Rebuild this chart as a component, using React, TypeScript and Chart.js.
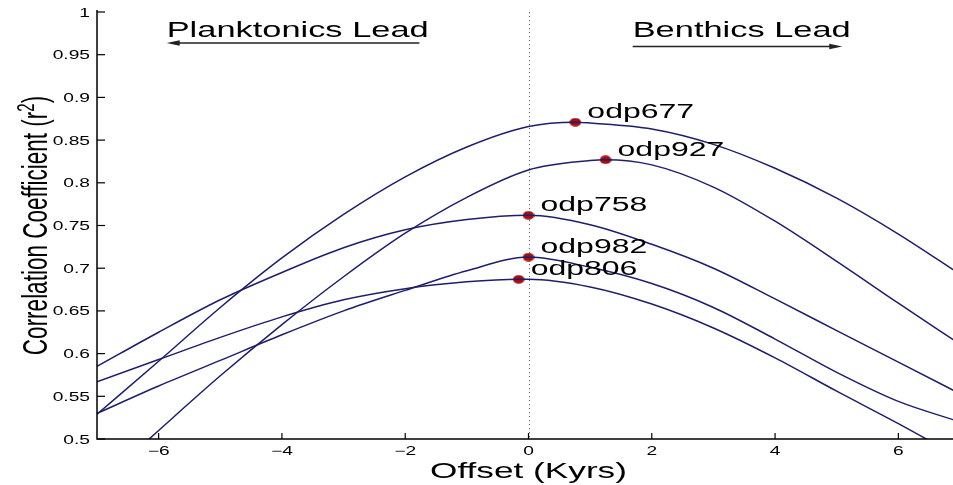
import React, { useEffect, useRef } from "react";
import { Chart, registerables } from "chart.js";

Chart.register(...registerables);

// Offsets (Kyrs) at which each core's correlation is listed
const offsets = [-7, -6, -5, -4, -3, -2, -1, 0, 1, 2, 3, 4, 5, 6, 7];

// Correlation coefficient (r²) per core at each offset
const odp677 = [0.529, 0.591, 0.654, 0.712, 0.763, 0.807, 0.842, 0.866, 0.870, 0.863, 0.845, 0.817, 0.782, 0.740, 0.693];
const odp927 = [0.445, 0.51, 0.574, 0.634, 0.69, 0.741, 0.783, 0.815, 0.826, 0.821, 0.795, 0.755, 0.708, 0.659, 0.611];
const odp758 = [0.585, 0.625, 0.663, 0.695, 0.724, 0.745, 0.757, 0.762, 0.751, 0.728, 0.7, 0.664, 0.627, 0.59, 0.553];
const odp982 = [0.53, 0.562, 0.592, 0.622, 0.65, 0.674, 0.697, 0.713, 0.701, 0.682, 0.654, 0.617, 0.578, 0.544, 0.52];
const odp806 = [0.567, 0.593, 0.619, 0.643, 0.663, 0.676, 0.684, 0.687, 0.678, 0.658, 0.63, 0.595, 0.556, 0.518, 0.478];

const coreNames = ["odp677", "odp927", "odp758", "odp982", "odp806"];
const coreSeries = [odp677, odp927, odp758, odp982, odp806];

// Best-fit offset and peak r² for each core
const peakOffsets = [0.76, 1.25, 0, 0, -0.16];
const peakValues = [0.871, 0.827, 0.762, 0.713, 0.687];

// Axis ticks
const yTicks = [0.5, 0.55, 0.6, 0.65, 0.7, 0.75, 0.8, 0.85, 0.9, 0.95, 1];
const yTickLabels = ["0.5", "0.55", "0.6", "0.65", "0.7", "0.75", "0.8", "0.85", "0.9", "0.95", "1"];
const xTicks = [-6, -4, -2, 0, 2, 4, 6];
const xTickLabels = ["\u22126", "\u22124", "\u22122", "0", "2", "4", "6"];

// Lead annotations (offset range of the arrow, and r² height of text / arrow)
const leadTexts = ["Planktonics Lead", "Benthics Lead"];
const leadArrowFrom = [-1.77, 1.69];
const leadArrowTo = [-5.87, 5.09];
const leadTextY = [0.9707, 0.9707];
const leadArrowY = [0.9637, 0.9596];

const LINE_COLOR = "#1e1e6c";
const DOT_COLOR = "#a50e0e";
const FONT = '"Liberation Sans", Arial, Helvetica, sans-serif';
const STRETCH = 1.6;

function seriesPoints(i: number) {
  const pts = offsets.map((x, k) => ({ x, y: coreSeries[i][k] }));
  const px = peakOffsets[i];
  const idx = pts.findIndex((p) => p.x === px);
  if (idx >= 0) pts[idx] = { x: px, y: peakValues[i] };
  else {
    pts.push({ x: px, y: peakValues[i] });
    pts.sort((a, b) => a.x - b.x);
  }
  return pts;
}

function wideText(
  ctx: CanvasRenderingContext2D,
  text: string,
  x: number,
  y: number,
  size: number,
  align: CanvasTextAlign
) {
  ctx.save();
  ctx.translate(x, y);
  ctx.scale(STRETCH, 1);
  ctx.font = `${size}px ${FONT}`;
  ctx.textAlign = align;
  ctx.textBaseline = "alphabetic";
  ctx.fillStyle = "#000";
  ctx.fillText(text, 0, 0);
  ctx.restore();
}

function arrow(ctx: CanvasRenderingContext2D, x1: number, x2: number, y: number) {
  const dir = x2 > x1 ? 1 : -1;
  ctx.save();
  ctx.strokeStyle = "#222";
  ctx.fillStyle = "#222";
  ctx.lineWidth = 1.3;
  ctx.beginPath();
  ctx.moveTo(x1, y);
  ctx.lineTo(x2 - dir * 8, y);
  ctx.stroke();
  ctx.beginPath();
  ctx.moveTo(x2, y);
  ctx.lineTo(x2 - dir * 13, y - 2.8);
  ctx.lineTo(x2 - dir * 13, y + 2.8);
  ctx.closePath();
  ctx.fill();
  ctx.restore();
}

const figurePlugin = {
  id: "figure",
  beforeDatasetsDraw(chart: any) {
    const { ctx, scales } = chart;
    const x0 = Math.round(scales.x.getPixelForValue(0)) + 0.5;
    ctx.save();
    ctx.strokeStyle = "#666";
    ctx.lineWidth = 1;
    ctx.setLineDash([1.2, 2.8]);
    ctx.beginPath();
    ctx.moveTo(x0, scales.y.getPixelForValue(1));
    ctx.lineTo(x0, scales.y.getPixelForValue(0.5));
    ctx.stroke();
    ctx.restore();
  },
  afterDraw(chart: any) {
    const { ctx, chartArea, scales } = chart;
    const xs = scales.x;
    const ys = scales.y;
    const left = chartArea.left;
    const bottom = ys.getPixelForValue(0.5);
    const top = ys.getPixelForValue(1);

    // axes
    ctx.save();
    ctx.strokeStyle = "#000";
    ctx.lineWidth = 1.5;
    ctx.beginPath();
    ctx.moveTo(left, top - 2);
    ctx.lineTo(left, bottom);
    ctx.lineTo(chartArea.right, bottom);
    ctx.stroke();
    ctx.lineWidth = 1.2;
    yTicks.forEach((v) => {
      const py = ys.getPixelForValue(v);
      ctx.beginPath();
      ctx.moveTo(left, py);
      ctx.lineTo(left + 8, py);
      ctx.stroke();
    });
    xTicks.forEach((v) => {
      const px = xs.getPixelForValue(v);
      ctx.beginPath();
      ctx.moveTo(px, bottom);
      ctx.lineTo(px, bottom - 6);
      ctx.stroke();
    });
    ctx.restore();

    yTicks.forEach((v, i) => {
      wideText(ctx, yTickLabels[i], left - 7, ys.getPixelForValue(v) + 4.5, 12, "right");
    });
    xTicks.forEach((v, i) => {
      wideText(ctx, xTickLabels[i], xs.getPixelForValue(v), bottom + 16, 12, "center");
    });

    // x title
    wideText(ctx, "Offset (Kyrs)", xs.getPixelForValue(0), bottom + 39, 22, "center");

    // y title, rotated, with superscript 2
    ctx.save();
    ctx.translate(47, (top + bottom) / 2);
    ctx.rotate(-Math.PI / 2);
    ctx.scale(1, STRETCH);
    ctx.fillStyle = "#000";
    ctx.textBaseline = "alphabetic";
    ctx.textAlign = "left";
    const main = "Correlation Coefficient (r";
    ctx.font = `22.5px ${FONT}`;
    const w1 = ctx.measureText(main).width;
    const w3 = ctx.measureText(")").width;
    ctx.font = `15px ${FONT}`;
    const w2 = ctx.measureText("2").width;
    const start = -(w1 + w2 + w3) / 2;
    ctx.font = `22.5px ${FONT}`;
    ctx.fillText(main, start, 0);
    ctx.font = `15px ${FONT}`;
    ctx.fillText("2", start + w1, -8);
    ctx.font = `22.5px ${FONT}`;
    ctx.fillText(")", start + w1 + w2, 0);
    ctx.restore();

    // core labels beside each peak
    coreNames.forEach((name, i) => {
      const px = xs.getPixelForValue(peakOffsets[i]);
      const py = ys.getPixelForValue(peakValues[i]);
      wideText(ctx, name, px + 12, py - 4, 20, "left");
    });

    // lead annotations
    leadTexts.forEach((t, i) => {
      const a = xs.getPixelForValue(leadArrowFrom[i]);
      const b = xs.getPixelForValue(leadArrowTo[i]);
      wideText(ctx, t, Math.min(a, b), ys.getPixelForValue(leadTextY[i]), 21.5, "left");
      arrow(ctx, a, b, ys.getPixelForValue(leadArrowY[i]));
    });
  },
};

export default function App() {
  const canvasRef = useRef<HTMLCanvasElement | null>(null);

  useEffect(() => {
    if (!canvasRef.current) return;

    const dot = document.createElement("canvas");
    dot.width = 12;
    dot.height = 9;
    const dctx = dot.getContext("2d")!;
    dctx.fillStyle = DOT_COLOR;
    dctx.beginPath();
    dctx.ellipse(6, 4.5, 5.8, 4.3, 0, 0, Math.PI * 2);
    dctx.fill();

    const datasets: any[] = coreNames.map((name, i) => ({
      type: "line",
      label: name,
      data: seriesPoints(i),
      borderColor: LINE_COLOR,
      borderWidth: 1.5,
      pointRadius: 0,
      cubicInterpolationMode: "monotone",
      fill: false,
    }));
    datasets.push({
      type: "scatter",
      label: "peaks",
      data: peakOffsets.map((x, i) => ({ x, y: peakValues[i] })),
      pointStyle: dot,
      pointRadius: 5,
      showLine: false,
    });

    const chart = new Chart(canvasRef.current, {
      type: "line",
      data: { datasets },
      options: {
        responsive: false,
        animation: false,
        events: [],
        layout: { padding: { left: 97, top: 12, right: 5, bottom: 46 } },
        plugins: { legend: { display: false }, tooltip: { enabled: false } },
        scales: {
          x: { type: "linear", min: -7, max: 7, display: false },
          y: { type: "linear", min: 0.5, max: 1, display: false },
        },
      },
      plugins: [figurePlugin],
    } as any);

    return () => chart.destroy();
  }, []);

  return (
    <div
      style={{
        position: "fixed",
        left: 0,
        top: 0,
        width: 953,
        height: 485,
        overflow: "hidden",
        background: "#fff",
      }}
    >
      <canvas ref={canvasRef} width={966} height={485} />
    </div>
  );
}
